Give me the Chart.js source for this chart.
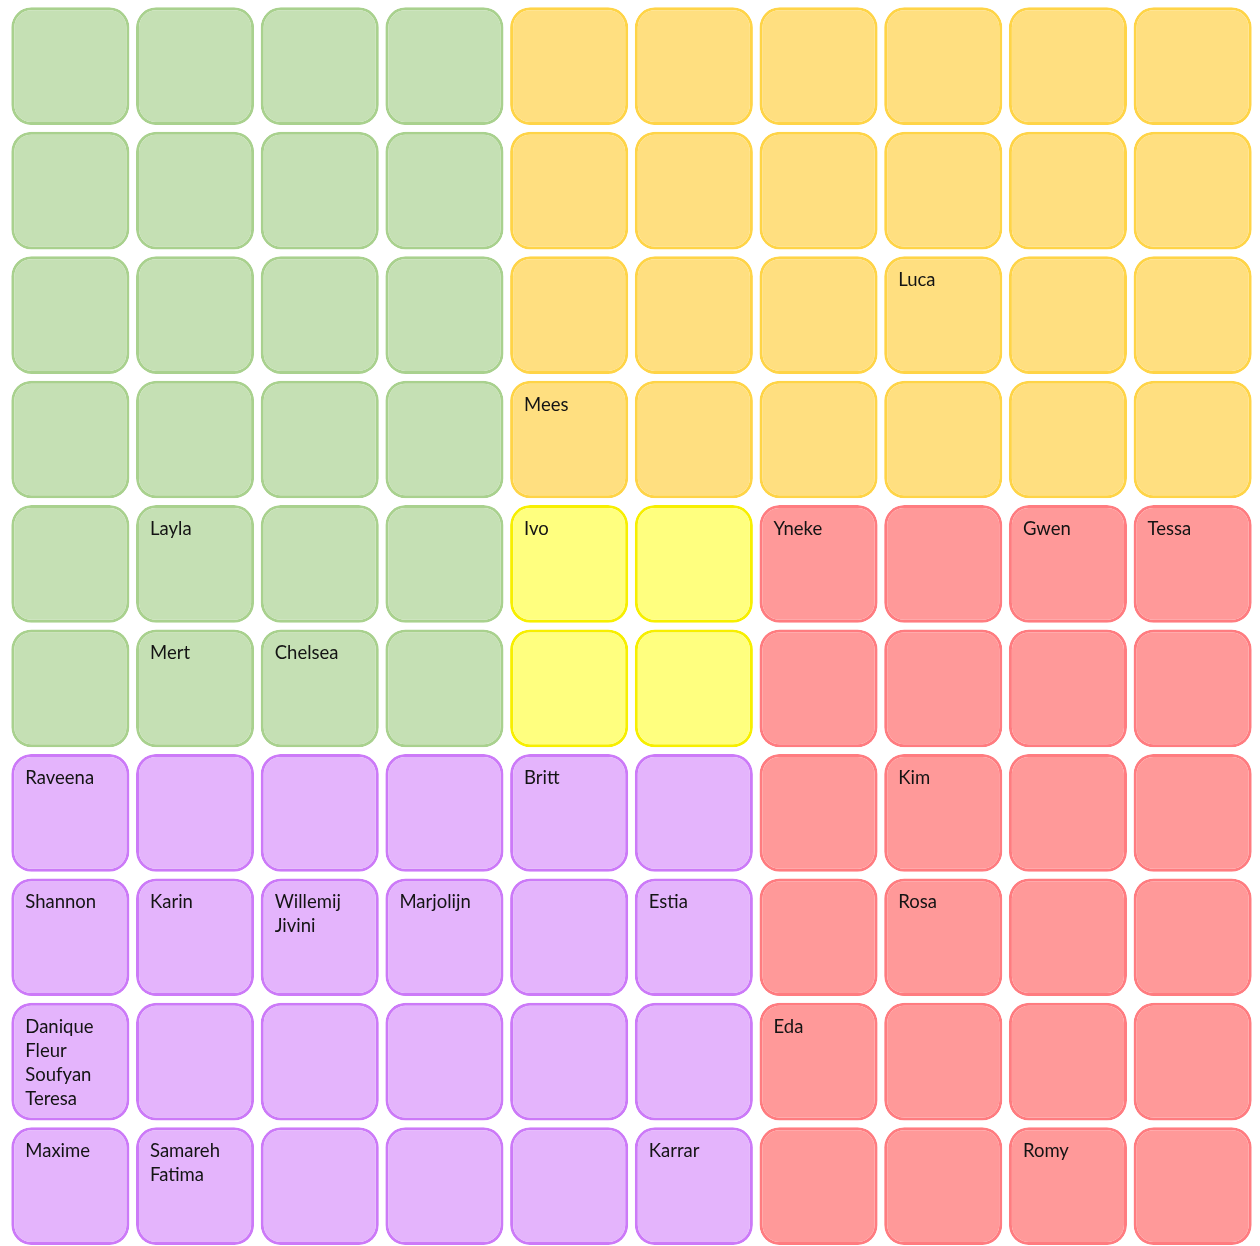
<!DOCTYPE html>
<html>
<head>
<meta charset="utf-8">
<script src="https://cdn.jsdelivr.net/npm/chart.js@4"></script>
<style>
    html, body { margin: 0; padding: 0; background: #ffffff; }
    #wrap { width: 1260px; height: 1246px; }
</style>
</head>
<body>
<div id="wrap"><canvas id="myChart"></canvas></div>
<script>
// columns of the seating grid
const columns = ['1', '2', '3', '4', '5', '6', '7', '8', '9', '10'];

// group of every cell, row by row (G green, O orange, Y yellow, R red, P purple)
const groups = [
    'GGGGOOOOOO',
    'GGGGOOOOOO',
    'GGGGOOOOOO',
    'GGGGOOOOOO',
    'GGGGYYRRRR',
    'GGGGYYRRRR',
    'PPPPPPRRRR',
    'PPPPPPRRRR',
    'PPPPPPRRRR',
    'PPPPPPRRRR'
];

// names in every cell, row by row
const names = [
    ['', '', '', '', '', '', '', '', '', ''],
    ['', '', '', '', '', '', '', '', '', ''],
    ['', '', '', '', '', '', '', 'Luca', '', ''],
    ['', '', '', '', 'Mees', '', '', '', '', ''],
    ['', 'Layla', '', '', 'Ivo', '', 'Yneke', '', 'Gwen', 'Tessa'],
    ['', 'Mert', 'Chelsea', '', '', '', '', '', '', ''],
    ['Raveena', '', '', '', 'Britt', '', '', 'Kim', '', ''],
    ['Shannon', 'Karin', 'Willemij\nJivini', 'Marjolijn', '', 'Estia', '', 'Rosa', '', ''],
    ['Danique\nFleur\nSoufyan\nTeresa', '', '', '', '', '', 'Eda', '', '', ''],
    ['Maxime', 'Samareh\nFatima', '', '', '', 'Karrar', '', '', 'Romy', '']
];

const fillColors = { G: '#c5e0b4', O: '#ffdf80', Y: '#ffff7f', R: '#ff9999', P: '#e4b4fc' };
const lineColors = { G: '#a9d18e', O: '#ffd447', Y: '#f7ef00', R: '#ff7c80', P: '#cc7af8' };

const gap = 0.027;

// one dataset per row, every cell a floating bar from row to row + 1
const datasets = groups.map((row, r) => ({
    label: 'row ' + (r + 1),
    data: columns.map(() => [r + gap, r + 1 - gap]),
    backgroundColor: row.split('').map(g => fillColors[g]),
    borderColor: row.split('').map(g => lineColors[g]),
    borderWidth: 3,
    borderRadius: 20,
    borderSkipped: false,
    grouped: false,
    barPercentage: 0.947,
    categoryPercentage: 1
}));

const cellNames = {
    id: 'cellNames',
    afterDatasetsDraw(chart) {
        const ctx = chart.ctx;
        ctx.save();
        ctx.font = '18.5px Lato';
        ctx.fillStyle = '#141414';
        ctx.textBaseline = 'middle';
        ctx.textAlign = 'left';
        names.forEach((row, r) => {
            const meta = chart.getDatasetMeta(r);
            row.forEach((text, c) => {
                if (!text) return;
                const bar = meta.data[c];
                const left = bar.x - bar.width / 2;
                const top = Math.min(bar.y, bar.base);
                text.split('\n').forEach((line, i) => {
                    ctx.fillText(line, left + 14, top + 24 + i * 24);
                });
            });
        });
        ctx.restore();
    }
};

const chart = new Chart(document.getElementById('myChart'), {
    type: 'bar',
    data: {
        labels: columns,
        datasets: datasets
    },
    options: {
        responsive: true,
        maintainAspectRatio: false,
        animation: false,
        events: [],
        layout: { padding: { left: 8, right: 5, top: 0, bottom: 0 } },
        plugins: {
            legend: { display: false },
            tooltip: { enabled: false }
        },
        scales: {
            x: { display: false },
            y: { display: false, reverse: true, min: -0.0317, max: 9.981 }
        }
    },
    plugins: [cellNames]
});
</script>
</body>
</html>
